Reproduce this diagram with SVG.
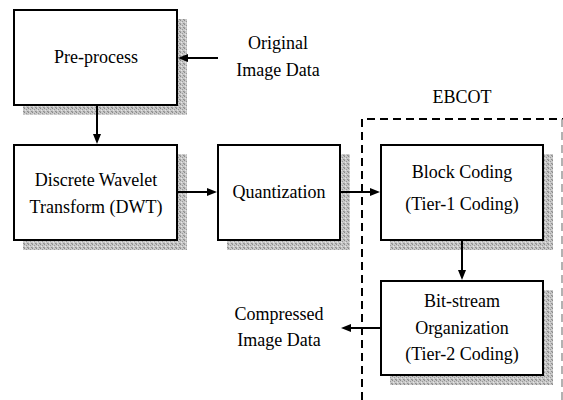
<svg xmlns="http://www.w3.org/2000/svg" width="563" height="400" viewBox="0 0 563 400">
<style>.box{fill:#fff;stroke:#000;stroke-width:2;} .sh{fill:url(#dots);} .c{stroke:#000;stroke-width:2;fill:none;} .h{fill:#000;}</style>
<defs>
<pattern id="dots" width="4" height="4" patternUnits="userSpaceOnUse">
<rect width="4" height="4" fill="#c8c8c8"/>
<rect x="0" y="0" width="1" height="1" fill="#8a8a8a"/>
<rect x="2" y="1" width="1" height="1" fill="#9a9a9a"/>
<rect x="1" y="2" width="1" height="1" fill="#e6e6e6"/>
<rect x="3" y="3" width="1" height="1" fill="#8f8f8f"/>
<rect x="0" y="3" width="1" height="1" fill="#a5a5a5"/>
</pattern>
</defs>
<g id="ebcot">
<path d="M362,400 L362,119 L563,119" stroke="#000" stroke-width="2" fill="none" stroke-dasharray="8,5"/>
<line x1="562" y1="119" x2="562" y2="400" stroke="#999" stroke-width="1.5" stroke-dasharray="8,5"/>
<text x="462" y="103" font-family="Liberation Serif" font-size="18" text-anchor="middle" style="font-family:'Liberation Serif',serif !important">EBCOT</text>
</g>
<g id="preprocess">
<rect class="sh" x="23" y="19" width="164" height="96"/>
<rect class="box" x="14" y="10" width="163" height="95"/>
<text x="96" y="63" font-family="Liberation Serif" font-size="18" text-anchor="middle" style="font-family:'Liberation Serif',serif !important">Pre-process</text>
</g>
<g id="dwt">
<rect class="sh" x="23" y="154" width="164" height="96"/>
<rect class="box" x="14" y="145" width="163" height="95"/>
<text x="96" y="186" font-family="Liberation Serif" font-size="18" text-anchor="middle" style="font-family:'Liberation Serif',serif !important">Discrete Wavelet</text>
<text x="96" y="213" font-family="Liberation Serif" font-size="18" text-anchor="middle" style="font-family:'Liberation Serif',serif !important">Transform (DWT)</text>
</g>
<g id="quant">
<rect class="sh" x="227" y="154" width="123" height="96"/>
<rect class="box" x="218" y="145" width="122" height="95"/>
<text x="279" y="198" font-family="Liberation Serif" font-size="18" text-anchor="middle" style="font-family:'Liberation Serif',serif !important">Quantization</text>
</g>
<g id="block">
<rect class="sh" x="390" y="154" width="163" height="96"/>
<rect class="box" x="381" y="145" width="162" height="95"/>
<text x="462" y="178" font-family="Liberation Serif" font-size="18" text-anchor="middle" style="font-family:'Liberation Serif',serif !important">Block Coding</text>
<text x="462" y="210" font-family="Liberation Serif" font-size="18" text-anchor="middle" style="font-family:'Liberation Serif',serif !important">(Tier-1 Coding)</text>
</g>
<g id="bitstream">
<rect class="sh" x="390" y="290" width="163" height="95"/>
<rect class="box" x="381" y="281" width="162" height="94"/>
<text x="462" y="307" font-family="Liberation Serif" font-size="18" text-anchor="middle" style="font-family:'Liberation Serif',serif !important">Bit-stream</text>
<text x="462" y="334" font-family="Liberation Serif" font-size="18" text-anchor="middle" style="font-family:'Liberation Serif',serif !important">Organization</text>
<text x="462" y="360" font-family="Liberation Serif" font-size="18" text-anchor="middle" style="font-family:'Liberation Serif',serif !important">(Tier-2 Coding)</text>
</g>
<g id="original">
<text x="278" y="49" font-family="Liberation Serif" font-size="18" text-anchor="middle" style="font-family:'Liberation Serif',serif !important">Original</text>
<text x="278" y="76" font-family="Liberation Serif" font-size="18" text-anchor="middle" style="font-family:'Liberation Serif',serif !important">Image Data</text>
</g>
<g id="compressed">
<text x="279" y="320" font-family="Liberation Serif" font-size="18" text-anchor="middle" style="font-family:'Liberation Serif',serif !important">Compressed</text>
<text x="279" y="346" font-family="Liberation Serif" font-size="18" text-anchor="middle" style="font-family:'Liberation Serif',serif !important">Image Data</text>
</g>
<g id="connectors">
<line class="c" x1="218" y1="58" x2="186" y2="58"/>
<polygon class="h" points="178,58 188,54 188,62"/>
<line class="c" x1="97" y1="106" x2="97" y2="136"/>
<polygon class="h" points="97,144 93,134 101,134"/>
<line class="c" x1="178" y1="192" x2="209" y2="192"/>
<polygon class="h" points="217,192 207,188 207,196"/>
<line class="c" x1="341" y1="192" x2="372" y2="192"/>
<polygon class="h" points="380,192 370,188 370,196"/>
<line class="c" x1="462" y1="241" x2="462" y2="272"/>
<polygon class="h" points="462,280 458,270 466,270"/>
<line class="c" x1="380" y1="328" x2="349" y2="328"/>
<polygon class="h" points="341,328 351,324 351,332"/>
</g>
</svg>
